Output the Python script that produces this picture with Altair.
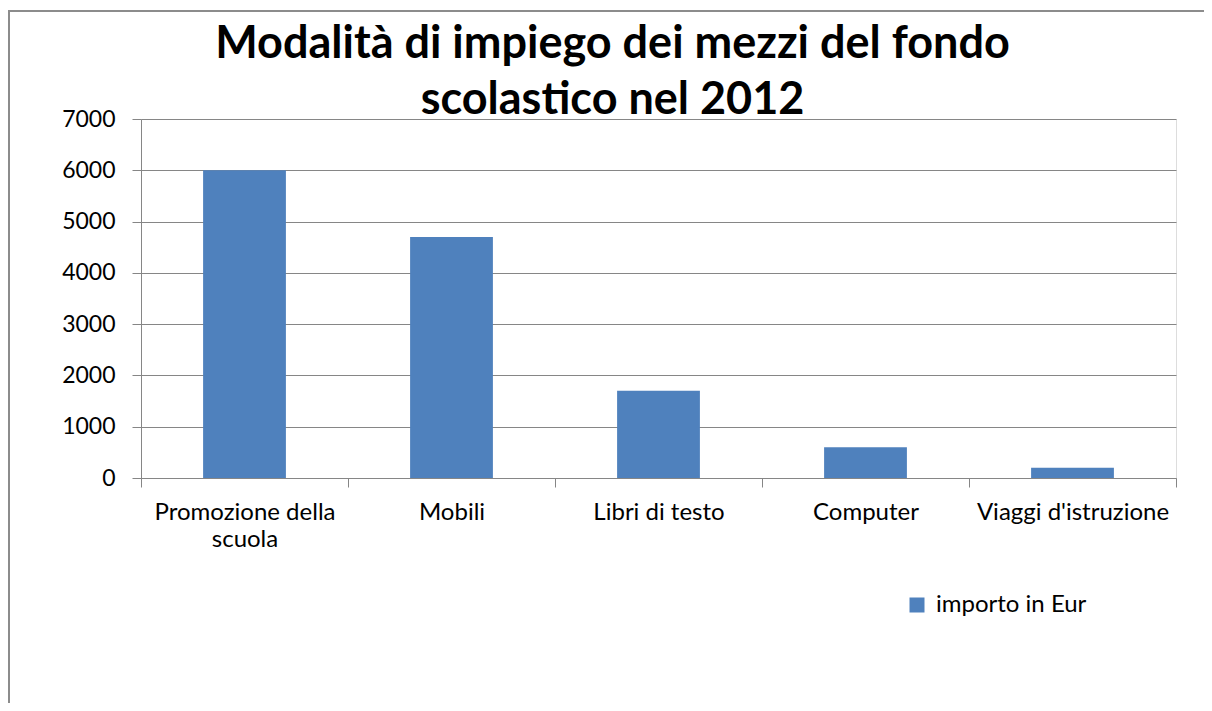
import altair as alt
import pandas as pd

categorie = ["Promozione della scuola", "Mobili", "Libri di testo", "Computer", "Viaggi d'istruzione"]
importi = [6000, 4700, 1700, 600, 200]
serie = "importo in Eur"
y_ticks = [0, 1000, 2000, 3000, 4000, 5000, 6000, 7000]

df = pd.DataFrame({"categoria": categorie, "importo": importi, "serie": [serie] * len(categorie)})

FONT = "Lato"
GRID = "#868686"
W, H = 1035, 359

bars = alt.Chart(df).mark_bar(width=alt.RelativeBandSize(0.4)).encode(
    x=alt.X(
        "categoria:N",
        sort=categorie,
        title=None,
        scale=alt.Scale(paddingInner=0, paddingOuter=0),
        axis=alt.Axis(
            labelAngle=0,
            labelFont=FONT,
            labelFontSize=24,
            labelColor="#000000",
            labelPadding=13,
            labelLineHeight=27,
            labelLimit=0,
            labelExpr="length(datum.label) > 20 ? [slice(datum.label, 0, lastindexof(datum.label, ' ')), slice(datum.label, lastindexof(datum.label, ' ') + 1)] : datum.label",
            tickBand="extent",
            tickSize=9,
            tickColor=GRID,
            domainColor=GRID,
            grid=False,
        ),
    ),
    y=alt.Y(
        "importo:Q",
        title=None,
        scale=alt.Scale(domain=[0, 7000], nice=False),
        axis=alt.Axis(
            values=y_ticks,
            format="d",
            labelFont=FONT,
            labelFontSize=23,
            labelColor="#000000",
            labelPadding=17,
            tickSize=9,
            tickColor=GRID,
            domainColor=GRID,
            gridColor=GRID,
            gridWidth=1,
        ),
    ),
    color=alt.Color(
        "serie:N",
        scale=alt.Scale(range=["#4F81BD"]),
        legend=alt.Legend(
            title=None,
            orient="none",
            legendX=764,
            legendY=474,
            padding=0,
            symbolType="square",
            symbolSize=225,
            symbolStrokeWidth=0,
            labelFont=FONT,
            labelFontSize=24,
            labelColor="#000000",
            labelOffset=7,
            labelLimit=0,
        ),
    ),
)

frame_left = alt.Chart(alt.Data(values=[{}])).mark_rule(color="#8C8C8C", strokeWidth=2).encode(
    x=alt.value(-132), y=alt.value(-109), y2=alt.value(600)
)
frame_top = alt.Chart(alt.Data(values=[{}])).mark_rule(color="#8C8C8C", strokeWidth=2).encode(
    x=alt.value(-133), x2=alt.value(1080), y=alt.value(-108)
)

chart = alt.layer(frame_left, frame_top, bars).properties(
    width=W,
    height=H,
    autosize=alt.AutoSizeParams(type="none"),
    padding={"left": 133, "top": 111, "right": 28, "bottom": 225},
    title=alt.TitleParams(
        text=["Modalità di impiego dei mezzi del fondo", "scolastico nel 2012"],
        font=FONT,
        fontSize=45,
        fontWeight="bold",
        color="#000000",
        anchor="middle",
        baseline="alphabetic",
        lineHeight=56,
        dx=-46,
        offset=-150,
    ),
).configure_view(stroke=None).configure(background="white")

chart.save("out.html", embed_options={"renderer": "svg", "actions": False})
